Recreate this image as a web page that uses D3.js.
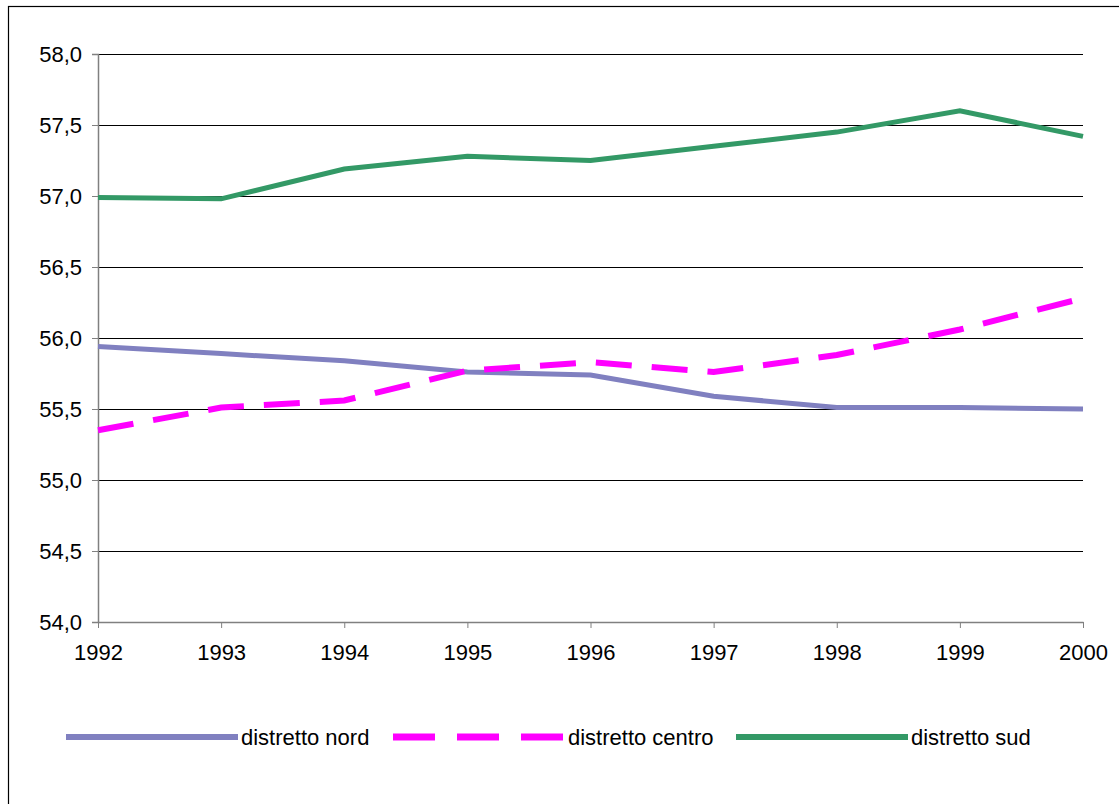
<!DOCTYPE html>
<html>
<head>
<meta charset="utf-8">
<script src="https://cdn.jsdelivr.net/npm/d3@7"></script>
<style>
  body { margin: 0; background: #fff; }
  text { font-family: Arial, "Liberation Sans", sans-serif; }
</style>
</head>
<body>
<div id="graf"></div>
<script>
// dati
const anni = [1992, 1993, 1994, 1995, 1996, 1997, 1998, 1999, 2000]
const nord = [55.94, 55.89, 55.84, 55.76, 55.74, 55.59, 55.51, 55.51, 55.50]
const centro = [55.35, 55.51, 55.56, 55.77, 55.83, 55.76, 55.88, 56.06, 56.28]
const sud = [56.99, 56.98, 57.19, 57.28, 57.25, 57.35, 57.45, 57.60, 57.42]
const yTicks = [54.0, 54.5, 55.0, 55.5, 56.0, 56.5, 57.0, 57.5, 58.0]
const serieNomi = ["distretto nord", "distretto centro", "distretto sud"]

const anchoTotal = 1119
const altoTotal = 804
const margins = { top: 54, right: 36, bottom: 182, left: 98 }
const ancho = anchoTotal - margins.left - margins.right
const alto = altoTotal - margins.top - margins.bottom

const svg = d3.select("#graf")
  .append("svg")
  .attr("width", anchoTotal)
  .attr("height", altoTotal)

// cornice esterna
svg.append("rect")
  .attr("x", 8.5).attr("y", 6.5)
  .attr("width", 1130).attr("height", 820)
  .attr("fill", "none").attr("stroke", "#000").attr("stroke-width", 1.2)

const g = svg.append("g")
  .attr("transform", `translate(${margins.left}, ${margins.top})`)

const x = d3.scalePoint().domain(anni).range([0, ancho])
const y = d3.scaleLinear().domain([54, 58]).range([alto, 0])

// griglia
g.selectAll(".grid")
  .data(yTicks.filter(d => d > 54))
  .enter()
  .append("line")
  .attr("x1", -6).attr("x2", ancho)
  .attr("y1", d => Math.round(y(d)) + 0.5)
  .attr("y2", d => Math.round(y(d)) + 0.5)
  .attr("stroke", "#000")
  .attr("stroke-width", 1)

// assi
const yAxis = d3.axisLeft(y).tickValues(yTicks).tickSize(6).tickPadding(10)
  .tickFormat(d => d3.format(".1f")(d).replace(".", ","))
const yAxisGroup = g.append("g").call(yAxis)
yAxisGroup.select(".domain").attr("stroke", "#808080").attr("stroke-width", 1.5)
yAxisGroup.selectAll(".tick line").attr("stroke", "#808080")
yAxisGroup.selectAll("text").attr("font-size", 22).attr("fill", "#000")

const xAxis = d3.axisBottom(x).tickSize(6).tickPadding(16).tickSizeOuter(0)
const xAxisGroup = g.append("g")
  .attr("transform", `translate(0, ${alto})`)
  .call(xAxis)
xAxisGroup.select(".domain").attr("stroke", "#808080").attr("stroke-width", 1.5)
xAxisGroup.selectAll(".tick line").attr("stroke", "#808080")
xAxisGroup.selectAll("text").attr("font-size", 22).attr("fill", "#000")

// linee
const serie = [
  { nome: serieNomi[0], valori: nord, colore: "#8080C0", dash: null, w: 5 },
  { nome: serieNomi[1], valori: centro, colore: "#FF00FF", dash: "36,20", w: 6 },
  { nome: serieNomi[2], valori: sud, colore: "#339966", dash: null, w: 5 }
]

const linea = d3.line()
  .x((d, i) => x(anni[i]))
  .y(d => y(d))

serie.forEach(s => {
  g.append("path")
    .datum(s.valori)
    .attr("d", linea)
    .attr("fill", "none")
    .attr("stroke", s.colore)
    .attr("stroke-width", s.w)
    .attr("stroke-dasharray", s.dash)
})

// legenda
const legX = [66, 393, 736]
const legY = 737
const leg = svg.selectAll(".leg")
  .data(serie)
  .enter()
  .append("g")
  .attr("transform", (d, i) => `translate(${legX[i]}, ${legY})`)
leg.append("line")
  .attr("x1", 0).attr("x2", 172)
  .attr("y1", 0).attr("y2", 0)
  .attr("stroke", d => d.colore)
  .attr("stroke-width", d => d.w + 1)
  .attr("stroke-dasharray", d => d.dash ? "42,22" : null)
leg.append("text")
  .attr("x", 175).attr("y", 8)
  .attr("font-size", 22)
  .text(d => d.nome)
</script>
</body>
</html>
